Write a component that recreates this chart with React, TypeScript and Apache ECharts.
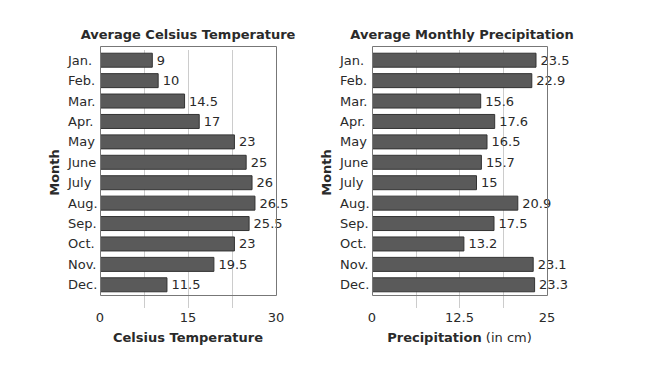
import React, { useEffect, useRef } from "react";
import * as echarts from "echarts";

const months = ["Jan.", "Feb.", "Mar.", "Apr.", "May", "June", "July", "Aug.", "Sep.", "Oct.", "Nov.", "Dec."];
const temperature = [9, 10, 14.5, 17, 23, 25, 26, 26.5, 25.5, 23, 19.5, 11.5];
const precipitation = [23.5, 22.9, 15.6, 17.6, 16.5, 15.7, 15, 20.9, 17.5, 13.2, 23.1, 23.3];
const tempTicks = [0, 15, 30];
const tempGrid = [7.5, 15, 22.5];
const precTicks = [0, 12.5, 25];
const precGrid = [6.25, 12.5, 18.75];

const FONT = "DejaVu Sans";
const TXT = "#2a2a2a";

export default function App() {
  const ref = useRef<HTMLDivElement>(null);
  useEffect(() => {
    document.body.style.margin = "0";
    const chart = echarts.init(ref.current!, null, { renderer: "svg" });
    const grids = [
      { left: 100, top: 50, width: 176, height: 245 },
      { left: 372, top: 50, width: 175, height: 245 },
    ];
    const xAxis = (i: number, max: number, ticks: number[], grid: number[], name: string, rich: any) => ({
      type: "value",
      gridIndex: i,
      min: 0,
      max,
      interval: max / 4,
      axisLine: { show: false },
      axisTick: { show: true, customValues: grid, length: 13, lineStyle: { color: "#cccccc", width: 1 } },
      splitLine: { show: true, lineStyle: { color: "#cccccc", width: 1 } },
      axisLabel: {
        customValues: ticks,
        margin: 16,
        color: TXT,
        fontFamily: FONT,
        fontSize: 13,
        formatter: (v: number) => String(v),
      },
      name,
      nameLocation: "middle",
      nameGap: 36,
      nameTextStyle: { color: TXT, fontFamily: FONT, fontSize: 13, fontWeight: rich ? "normal" : "bold", rich },
    });
    const yAxis = (i: number) => ({
      type: "category",
      gridIndex: i,
      data: months,
      inverse: true,
      axisLine: { show: false },
      axisTick: { show: false },
      axisLabel: { color: TXT, fontFamily: FONT, fontSize: 13, margin: 32, align: "left" },
      name: "Month",
      nameLocation: "middle",
      nameGap: 39,
      nameRotate: 90,
      nameTextStyle: { color: TXT, fontFamily: FONT, fontSize: 13, fontWeight: "bold" },
    });
    const bar = (i: number, data: number[]) => ({
      type: "bar",
      xAxisIndex: i,
      yAxisIndex: i,
      data,
      barWidth: 15,
      itemStyle: { color: "#5a5a5a", borderColor: "#333", borderWidth: 1 },
      label: {
        show: true,
        position: "right",
        distance: 4,
        color: TXT,
        fontFamily: FONT,
        fontSize: 13,
      },
    });
    const box = (g: any) => ({
      type: "rect",
      shape: { x: g.left + 0.5, y: 46.5, width: g.width, height: 295 - 46 },
      style: { fill: "none", stroke: "#777", lineWidth: 1 },
      z: 10,
    });
    const titleStyle = { fontFamily: FONT, fontSize: 13, fontWeight: "bold", color: TXT };
    chart.setOption({
      animation: false,
      title: [
        { text: "Average Celsius Temperature", left: 183, top: 23, textAlign: "center", textStyle: titleStyle },
        { text: "Average Monthly Precipitation", left: 457, top: 23, textAlign: "center", textStyle: titleStyle },
      ],
      grid: grids,
      xAxis: [
        xAxis(0, 30, tempTicks, tempGrid, "Celsius Temperature", undefined),
        xAxis(1, 25, precTicks, precGrid, "{b|Precipitation} (in cm)", {
          b: { fontFamily: FONT, fontSize: 13, fontWeight: "bold", color: TXT },
        }),
      ],
      yAxis: [yAxis(0), yAxis(1)],
      series: [bar(0, temperature), bar(1, precipitation)],
      graphic: [box(grids[0]), box(grids[1])],
    });
    return () => chart.dispose();
  }, []);
  return <div ref={ref} style={{ width: 660, height: 365 }} />;
}
